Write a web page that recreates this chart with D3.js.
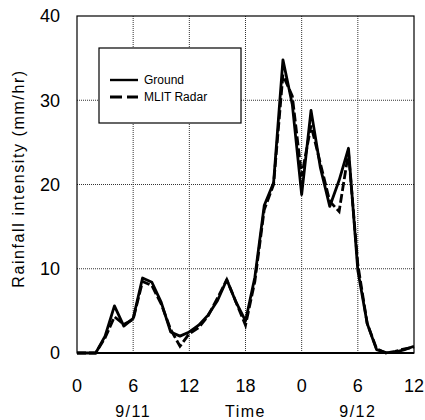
<!DOCTYPE html>
<html>
<head>
<meta charset="utf-8">
<script src="https://cdn.jsdelivr.net/npm/d3@7"></script>
<style>
    body { margin: 0; background: #fff; }
    text { font-family: "Liberation Sans", Arial, sans-serif; fill: #000; }
</style>
</head>
<body>
<div id="chart"></div>
<script>
// hours since 0:00 on 9/11
const hours = d3.range(0, 37);
const groundValues = [0, 0, 0, 2.0, 5.6, 3.2, 4.1, 8.9, 8.4, 6.0, 2.5, 2.0, 2.5, 3.3, 4.5, 6.2, 8.7, 6.0, 3.8,
    9.0, 17.5, 20.2, 34.8, 29.5, 18.8, 28.8, 22.0, 17.4, 20.5, 24.3, 9.8, 3.5, 0.4, 0.05, 0.1, 0.4, 0.8];
const radarValues = [0, 0, 0, 1.8, 4.3, 3.4, 4.0, 8.5, 8.0, 5.8, 2.8, 0.8, 2.3, 3.0, 4.4, 6.5, 8.7, 6.0, 3.3,
    8.5, 17.0, 20.0, 33.0, 30.5, 21.0, 27.0, 22.5, 18.0, 16.8, 23.8, 10.5, 3.5, 0.5, 0, 0.2, 0.5, 0.7];
const xTicks = [0, 6, 12, 18, 24, 30, 36];
const xTickLabels = ['0', '6', '12', '18', '0', '6', '12'];
const dateLabels = [{h: 6, text: '9/11'}, {h: 18, text: 'Time'}, {h: 30, text: '9/12'}];
const yTicks = [0, 10, 20, 30, 40];

function createChart() {
    const margin = {top: 16, right: 11, bottom: 67, left: 77};
    const width = 425 - margin.left - margin.right;
    const height = 420 - margin.top - margin.bottom;

    const svg = d3.select('#chart')
        .append('svg')
        .attr('width', 425)
        .attr('height', 420)
        .append('g')
        .attr('transform', `translate(${margin.left},${margin.top})`);

    // Escalas
    const x = d3.scaleLinear().domain([0, 36]).range([0, width]);
    const y = d3.scaleLinear().domain([0, 40]).range([height, 0]);

    // Grid (dotted)
    svg.selectAll('.vgrid')
        .data(xTicks.slice(1, -1))
        .enter()
        .append('line')
        .attr('x1', d => x(d)).attr('x2', d => x(d))
        .attr('y1', 0).attr('y2', height)
        .attr('stroke', '#333')
        .attr('stroke-width', 1)
        .attr('stroke-dasharray', '1,1');

    svg.selectAll('.hgrid')
        .data(yTicks.slice(1, -1))
        .enter()
        .append('line')
        .attr('x1', 0).attr('x2', width)
        .attr('y1', d => y(d)).attr('y2', d => y(d))
        .attr('stroke', '#333')
        .attr('stroke-width', 1)
        .attr('stroke-dasharray', '1,1');

    // Frame
    svg.append('rect')
        .attr('width', width)
        .attr('height', height)
        .attr('fill', 'none')
        .attr('stroke', '#000')
        .attr('stroke-width', 1.2);

    svg.append('line')
        .attr('x1', 0).attr('x2', width)
        .attr('y1', height).attr('y2', height)
        .attr('stroke', '#000')
        .attr('stroke-width', 2);

    // Lines
    const line = d3.line()
        .x((d, i) => x(hours[i]))
        .y(d => y(d));

    svg.append('path')
        .datum(groundValues)
        .attr('d', line)
        .attr('fill', 'none')
        .attr('stroke', '#000')
        .attr('stroke-width', 2.8)
        .attr('stroke-linejoin', 'round');

    svg.append('path')
        .datum(radarValues)
        .attr('d', line)
        .attr('fill', 'none')
        .attr('stroke', '#000')
        .attr('stroke-width', 2.8)
        .attr('stroke-dasharray', '9,3');

    // Tick labels
    svg.selectAll('.ylab')
        .data(yTicks)
        .enter()
        .append('text')
        .attr('x', -17)
        .attr('y', d => y(d))
        .attr('dy', '0.36em')
        .attr('text-anchor', 'end')
        .style('font-size', '18px')
        .text(d => d);

    svg.selectAll('.xlab')
        .data(xTicks)
        .enter()
        .append('text')
        .attr('x', d => x(d))
        .attr('y', height + 39)
        .attr('text-anchor', 'middle')
        .style('font-size', '18px')
        .text((d, i) => xTickLabels[i]);

    svg.selectAll('.dlab')
        .data(dateLabels)
        .enter()
        .append('text')
        .attr('x', d => x(d.h))
        .attr('y', height + 64)
        .attr('text-anchor', 'middle')
        .style('font-size', '16px')
        .style('letter-spacing', '1.5px')
        .text(d => d.text);

    // Y label
    svg.append('text')
        .attr('transform', 'rotate(-90)')
        .attr('x', -height / 2 + 6)
        .attr('y', -53)
        .attr('text-anchor', 'middle')
        .style('font-size', '16px')
        .style('letter-spacing', '1.6px')
        .text('Rainfall intensity (mm/hr)');

    // Legenda
    const legend = svg.append('g')
        .attr('transform', `translate(${99 - margin.left}, ${48 - margin.top})`);

    legend.append('rect')
        .attr('width', 142)
        .attr('height', 75)
        .attr('fill', '#fff')
        .attr('stroke', '#000')
        .attr('stroke-width', 1.2);

    const items = [{name: 'Ground', dash: null}, {name: 'MLIT Radar', dash: '12,5'}];
    items.forEach((item, i) => {
        const row = legend.append('g')
            .attr('transform', `translate(0, ${32 + i * 17})`);
        row.append('line')
            .attr('x1', 11).attr('x2', 39)
            .attr('stroke', '#000')
            .attr('stroke-width', item.dash ? 3 : 2.4)
            .attr('stroke-dasharray', item.dash);
        row.append('text')
            .attr('x', 45)
            .attr('dy', '0.35em')
            .style('font-size', '12px')
            .text(item.name);
    });
}

createChart();
</script>
</body>
</html>
